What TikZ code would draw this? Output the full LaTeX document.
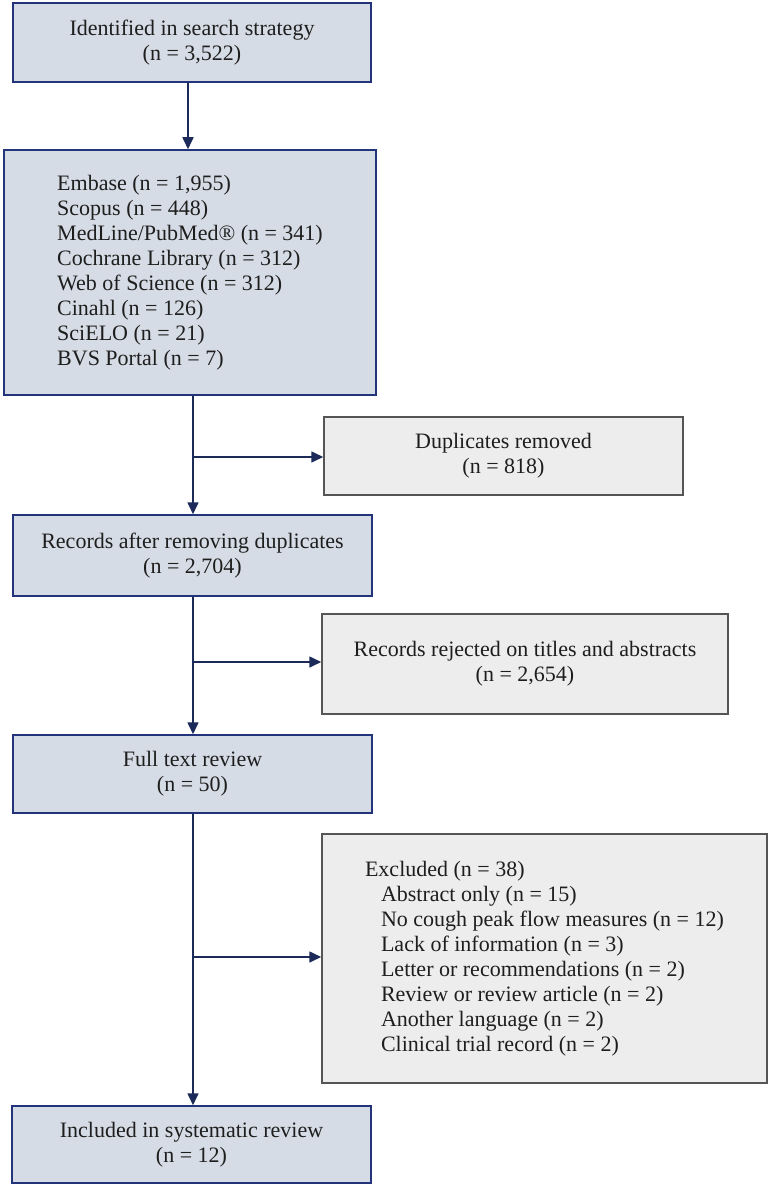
\documentclass[tikz,border=0pt]{standalone}
\usepackage{fontspec}
\setmainfont{Liberation Serif}
\usetikzlibrary{arrows.meta}
\definecolor{navy}{HTML}{1C2A5A}
\definecolor{mainfill}{HTML}{D6DCE5}
\definecolor{mainborder}{HTML}{23347A}
\definecolor{sidefill}{HTML}{EDEDED}
\definecolor{sideborder}{HTML}{555555}
\definecolor{txt}{HTML}{1E1E1E}
\tikzset{
  mainbox/.style={draw=mainborder, fill=mainfill, line width=1.5pt, inner sep=0pt, text=txt,
    font=\fontsize{22}{25}\selectfont, align=center},
  sidebox/.style={draw=sideborder, fill=sidefill, line width=1.5pt, inner sep=0pt, text=txt,
    font=\fontsize{22}{25}\selectfont, align=center},
  arr/.style={draw=navy, line width=1.6pt, -{Triangle[length=12pt,width=11pt]}},
  ln/.style={draw=navy, line width=1.6pt}
}
\begin{document}
\begin{tikzpicture}[x=1pt,y=-1pt]
\useasboundingbox (0,0) rectangle (771,1190);
\node[mainbox, minimum width=358pt, minimum height=79pt] (b1) at (192,42.5)
  {Identified in search strategy\\(n = 3,522)};
\node[mainbox, minimum width=372pt, minimum height=245pt, align=left] (b2) at (190,272.5)
  {Embase (n = 1,955)\\Scopus (n = 448)\\MedLine/PubMed® (n = 341)\\Cochrane Library (n = 312)\\Web of Science (n = 312)\\Cinahl (n = 126)\\SciELO (n = 21)\\BVS Portal (n = 7)};
\node[sidebox, minimum width=359pt, minimum height=78pt] (dup) at (503.5,456)
  {Duplicates removed\\(n = 818)};
\node[mainbox, minimum width=359pt, minimum height=81pt] (b3) at (192.5,555.5)
  {Records after removing duplicates\\(n = 2,704)};
\node[sidebox, minimum width=406pt, minimum height=100pt] (rej) at (525,664)
  {Records rejected on titles and abstracts\\(n = 2,654)};
\node[mainbox, minimum width=359pt, minimum height=78pt] (b4) at (192.5,774)
  {Full text review\\(n = 50)};
\node[sidebox, minimum width=445pt, minimum height=249pt, align=left] (exc) at (544.5,958.5)
  {Excluded (n = 38)\\
   \hspace*{16pt}Abstract only (n = 15)\\
   \hspace*{16pt}No cough peak flow measures (n = 12)\\
   \hspace*{16pt}Lack of information (n = 3)\\
   \hspace*{16pt}Letter or recommendations (n = 2)\\
   \hspace*{16pt}Review or review article (n = 2)\\
   \hspace*{16pt}Another language (n = 2)\\
   \hspace*{16pt}Clinical trial record (n = 2)};
\node[mainbox, minimum width=359pt, minimum height=77pt] (b5) at (191.5,1144.5)
  {Included in systematic review\\(n = 12)};
% connectors
\coordinate (t1) at (188,0);
\draw[arr] (b1.south -| t1) -- (b2.north -| t1);
\coordinate (j1) at (193,457);
\draw[arr] (b2.south -| j1) -- (b3.north -| j1);
\draw[arr] (j1) -- (j1 -| dup.west);
\coordinate (j2) at (193,662);
\draw[arr] (b3.south -| j2) -- (b4.north -| j2);
\draw[arr] (j2) -- (j2 -| rej.west);
\coordinate (j3) at (193,957);
\draw[arr] (b4.south -| j3) -- (b5.north -| j3);
\draw[arr] (j3) -- (j3 -| exc.west);
\end{tikzpicture}
\end{document}
